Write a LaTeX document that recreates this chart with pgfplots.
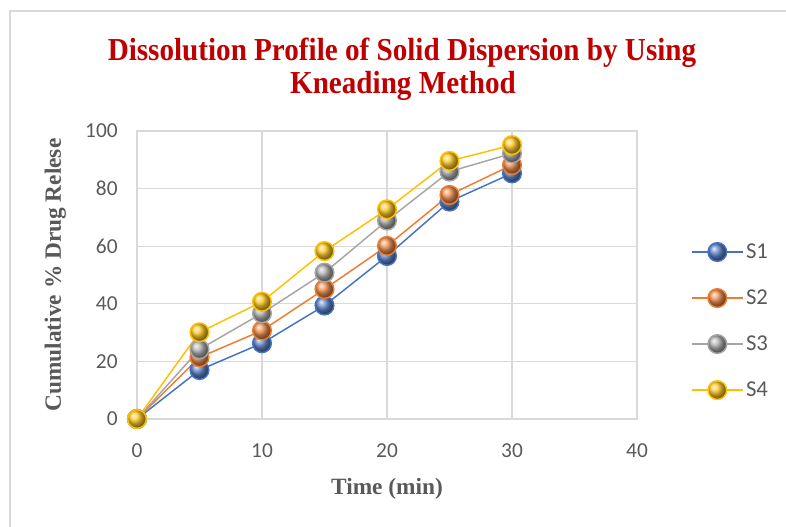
\documentclass[border=0pt]{standalone}
\usepackage{fontspec}
\setmainfont{Liberation Serif}
\newfontfamily\calibri{Carlito}
\newfontfamily\titlefont[FakeStretch=0.91]{Liberation Serif}
\usepackage{pgfplots}
\pgfplotsset{compat=1.18}
\definecolor{cS1}{HTML}{4472C4}
\definecolor{cS2}{HTML}{ED7D31}
\definecolor{cS3}{HTML}{A5A5A5}
\definecolor{cS4}{HTML}{FFC000}
\definecolor{gridc}{HTML}{D9D9D9}
\definecolor{txt}{HTML}{595959}
\definecolor{titlec}{HTML}{C00000}
\begin{document}
\begin{tikzpicture}
\useasboundingbox (0pt,0pt) rectangle (589.5pt,395.25pt);
\draw[gridc,line width=1.2pt] (7.5pt,0pt) -- (7.5pt,387pt) -- (589.5pt,387pt);
\node[font=\titlefont\bfseries\fontsize{24}{28}\selectfont,text=titlec,anchor=base] at (301.5pt,349.5pt) {Dissolution Profile of Solid Dispersion by Using};
\node[font=\titlefont\bfseries\fontsize{24}{28}\selectfont,text=titlec,anchor=base] at (302.25pt,324.75pt) {Kneading Method};
\begin{axis}[
  at={(102.75pt,81pt)}, anchor=south west,
  scale only axis, width=375pt, height=216pt,
  xmin=0, xmax=40, ymin=0, ymax=100,
  xtick={0,10,20,30,40}, ytick={0,20,40,60,80,100},
  major tick length=0pt,
  grid=major,
  major grid style={gridc,line width=0.8pt},
  axis line style={gridc,line width=0.8pt},
  /pgf/number format/assume math mode=true,
  ticklabel style={font=\calibri\fontsize{16}{18}\selectfont,text=txt},
  yticklabel style={xshift=-11pt},
  xticklabel style={yshift=-15pt},
  xlabel={Time (min)},
  ylabel={Cumulative \% Drug Relese},
  label style={font=\bfseries\fontsize{17.5}{20}\selectfont,text=txt},
  xlabel style={at={(0.5,0)},anchor=base,yshift=-57pt},
  ylabel style={at={(0,0.5)},anchor=base,yshift=57pt},
  clip=false,
  legend style={at={(1.10,0.34)},anchor=west,draw=none,fill=none,
    font=\calibri\fontsize{17}{19}\selectfont,text=txt,row sep=18pt,
    /tikz/every even column/.append style={column sep=2pt}},
  legend cell align=left,
  legend image code/.code={\draw[mark repeat=2,mark phase=2] plot coordinates {(0pt,0pt)(19pt,0pt)(38pt,0pt)};},
  every axis plot/.append style={line width=1.1pt,mark=ball,mark size=7pt},
]
\addplot[cS1,mark options={ball color=cS1!85!white}] coordinates {(0,0)(5,17.0)(10,26.3)(15,39.4)(20,56.6)(25,75.5)(30,85.3)};
\addlegendentry{S1}
\addplot[cS2,mark options={ball color=cS2!85!white}] coordinates {(0,0)(5,21.4)(10,30.7)(15,45.1)(20,60.1)(25,77.8)(30,88.2)};
\addlegendentry{S2}
\addplot[cS3,mark options={ball color=cS3!85!white}] coordinates {(0,0)(5,24.2)(10,36.7)(15,50.8)(20,68.9)(25,85.9)(30,92.2)};
\addlegendentry{S3}
\addplot[cS4,mark options={ball color=cS4!85!white}] coordinates {(0,0)(5,30.1)(10,40.7)(15,58.3)(20,72.8)(25,89.6)(30,95.1)};
\addlegendentry{S4}
\end{axis}
\end{tikzpicture}
\end{document}
